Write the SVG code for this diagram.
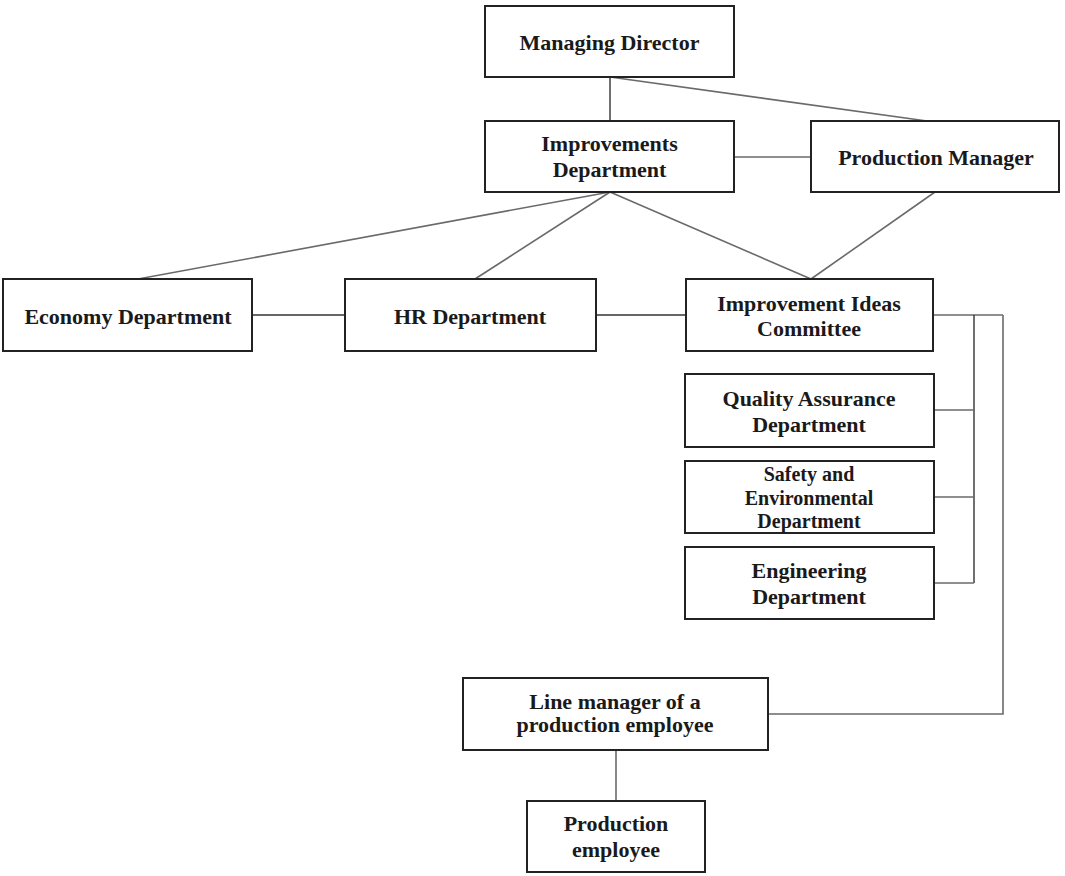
<svg xmlns="http://www.w3.org/2000/svg" width="1065" height="876" viewBox="0 0 1065 876">
<style>
.box{fill:#fff;stroke:#222;stroke-width:2}
.lbl{font-family:"Liberation Serif","Times New Roman",serif;font-weight:bold;font-size:22px;fill:#1a1a1a;text-anchor:middle}
.sm{font-size:20px}
.c{fill:none;stroke:#6a6a6a;stroke-width:1.6}
.cd{fill:none;stroke:#333;stroke-width:1.4}
</style>
<rect width="1065" height="876" fill="#fff"/>
<g id="connectors">
<line class="cd" x1="610" y1="77" x2="610" y2="121"/>
<line class="c" x1="610" y1="77" x2="927" y2="121"/>
<line class="c" x1="734" y1="157" x2="811" y2="157"/>
<line class="c" x1="610" y1="192" x2="138" y2="279"/>
<line class="c" x1="610" y1="192" x2="475" y2="279"/>
<line class="c" x1="610" y1="192" x2="811" y2="279"/>
<line class="c" x1="935" y1="192" x2="811" y2="279"/>
<line class="cd" x1="252" y1="315" x2="345" y2="315"/>
<line class="cd" x1="596" y1="315" x2="686" y2="315"/>
<line class="c" x1="933" y1="315" x2="1003" y2="315"/>
<line class="cd" x1="974" y1="315" x2="974" y2="583"/>
<polyline class="c" points="1003,315 1003,714 768,714"/>
<line class="c" x1="934" y1="410" x2="974" y2="410"/>
<line class="c" x1="934" y1="497" x2="974" y2="497"/>
<line class="c" x1="934" y1="583" x2="974" y2="583"/>
<line class="c" x1="616" y1="750" x2="616" y2="801"/>
</g>
<g id="managing-director">
<rect class="box" x="485" y="6" width="249" height="71"/>
<text class="lbl" x="609.5" y="50">Managing Director</text>
</g>
<g id="improvements-department">
<rect class="box" x="485" y="121" width="249" height="71"/>
<text class="lbl" x="609.5" y="151">Improvements</text>
<text class="lbl" x="609.5" y="177">Department</text>
</g>
<g id="production-manager">
<rect class="box" x="811" y="121" width="248" height="71"/>
<text class="lbl" x="936" y="165">Production Manager</text>
</g>
<g id="economy-department">
<rect class="box" x="3" y="279" width="249" height="72"/>
<text class="lbl" x="128" y="324">Economy Department</text>
</g>
<g id="hr-department">
<rect class="box" x="345" y="279" width="251" height="72"/>
<text class="lbl" x="470" y="324">HR Department</text>
</g>
<g id="improvement-ideas-committee">
<rect class="box" x="686" y="279" width="247" height="72"/>
<text class="lbl" x="809" y="311">Improvement Ideas</text>
<text class="lbl" x="809" y="336">Committee</text>
</g>
<g id="quality-assurance">
<rect class="box" x="685" y="374" width="249" height="73"/>
<text class="lbl" x="809" y="406">Quality Assurance</text>
<text class="lbl" x="809" y="432">Department</text>
</g>
<g id="safety-environmental">
<rect class="box" x="685" y="461" width="249" height="72"/>
<text class="lbl sm" x="809" y="481">Safety and</text>
<text class="lbl sm" x="809" y="505">Environmental</text>
<text class="lbl sm" x="809" y="528">Department</text>
</g>
<g id="engineering-department">
<rect class="box" x="685" y="547" width="249" height="72"/>
<text class="lbl" x="809" y="578">Engineering</text>
<text class="lbl" x="809" y="604">Department</text>
</g>
<g id="line-manager">
<rect class="box" x="463" y="678" width="305" height="72"/>
<text class="lbl" x="615" y="709">Line manager of a</text>
<text class="lbl" x="615" y="732">production employee</text>
</g>
<g id="production-employee">
<rect class="box" x="527" y="801" width="178" height="71"/>
<text class="lbl" x="616" y="831">Production</text>
<text class="lbl" x="616" y="857">employee</text>
</g>
</svg>
